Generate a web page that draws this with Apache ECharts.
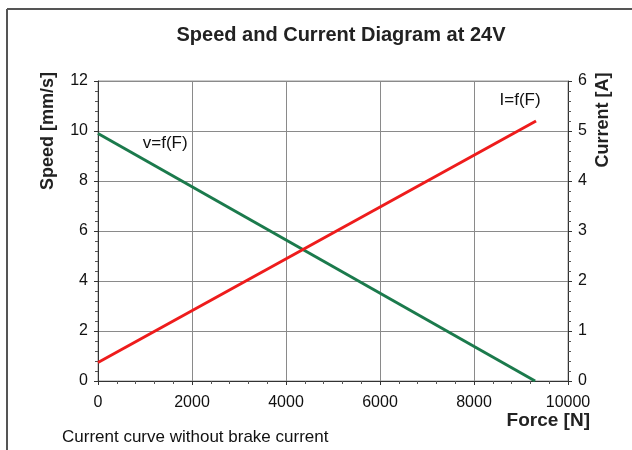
<!DOCTYPE html>
<html><head><meta charset="utf-8">
<script src="https://cdn.jsdelivr.net/npm/echarts@6/dist/echarts.min.js"></script>
<style>html,body{margin:0;padding:0;background:#fff}#c{width:632px;height:450px}</style>
</head><body><div id="c"></div>
<script>
const titleText = 'Speed and Current Diagram at 24V';
const speedForce = [0, 9300];
const speedValues = [9.9, 0];
const currentForce = [0, 9320];
const currentValues = [0.37, 5.2];
const speedLabel = {text: 'v=f(F)', x: 1430, y: 9.5};
const currentLabel = {text: 'I=f(F)', x: 8980, y: 5.62};
const xTitle = 'Force [N]';
const yLeftTitle = 'Speed [mm/s]';
const yRightTitle = 'Current [A]';
const footnote = 'Current curve without brake current';

const FONT = '"Liberation Sans", Arial, sans-serif';
const chart = echarts.init(document.getElementById('c'));
const axisCommon = {
  axisLine: {show: true, lineStyle: {color: '#333', width: 1}},
  axisTick: {show: true, length: 4, lineStyle: {color: '#333'}},
  minorTick: {show: true, splitNumber: 5, length: 3, lineStyle: {color: '#555'}},
  axisLabel: {color: '#111', fontSize: 16, fontFamily: FONT, margin: 10, formatter: v => String(v)},
  splitLine: {show: true, lineStyle: {color: '#8a8a8a', width: 1}}
};
chart.setOption({
  animation: false,
  backgroundColor: '#fff',
  title: {text: titleText, left: 336, top: 20, textAlign: 'center',
    textStyle: {fontFamily: FONT, fontSize: 20, fontWeight: 'bold', color: '#222'}},
  grid: {left: 98, right: 64, top: 81, bottom: 69, show: true, borderColor: '#999', borderWidth: 1},
  xAxis: Object.assign({}, axisCommon, {type: 'value', min: 0, max: 10000, interval: 2000,
    axisLabel: Object.assign({}, axisCommon.axisLabel, {margin: 14})}),
  yAxis: [
    Object.assign({}, axisCommon, {type: 'value', min: 0, max: 12, interval: 2, position: 'left'}),
    Object.assign({}, axisCommon, {type: 'value', min: 0, max: 6, interval: 1, position: 'right', splitLine: {show: false}})
  ],
  series: [
    {type: 'line', yAxisIndex: 0, data: speedForce.map((f, i) => [f, speedValues[i]]),
      symbol: 'none', lineStyle: {color: '#1b7a4c', width: 3}, z: 3,
      markPoint: {symbol: 'circle', symbolSize: 0, silent: true,
        label: {show: true, position: 'inside', formatter: speedLabel.text, color: '#111', fontSize: 17, fontFamily: FONT},
        data: [{coord: [speedLabel.x, speedLabel.y]}]}},
    {type: 'line', yAxisIndex: 1, data: currentForce.map((f, i) => [f, currentValues[i]]),
      symbol: 'none', lineStyle: {color: '#ee1c1c', width: 3}, z: 4,
      markPoint: {symbol: 'circle', symbolSize: 0, silent: true,
        label: {show: true, position: 'inside', formatter: currentLabel.text, color: '#111', fontSize: 17, fontFamily: FONT},
        data: [{coord: [currentLabel.x, currentLabel.y]}]}}
  ],
  graphic: [
    {type: 'line', shape: {x1: 7, y1: 9, x2: 632, y2: 9}, style: {stroke: '#555', lineWidth: 2}},
    {type: 'line', shape: {x1: 7, y1: 9, x2: 7, y2: 450}, style: {stroke: '#555', lineWidth: 2}},
    {type: 'text', x: 48, y: 131, rotation: Math.PI / 2,
      style: {text: yLeftTitle, font: 'bold 18px ' + FONT, fill: '#222', align: 'center', verticalAlign: 'middle'}},
    {type: 'text', x: 603, y: 120, rotation: Math.PI / 2,
      style: {text: yRightTitle, font: 'bold 18px ' + FONT, fill: '#222', align: 'center', verticalAlign: 'middle'}},
    {type: 'text', x: 590, y: 421,
      style: {text: xTitle, font: 'bold 19px ' + FONT, fill: '#222', align: 'right', verticalAlign: 'middle'}},
    {type: 'text', x: 62, y: 437,
      style: {text: footnote, font: '17px ' + FONT, fill: '#111', align: 'left', verticalAlign: 'middle'}}
  ]
});
</script></body></html>
